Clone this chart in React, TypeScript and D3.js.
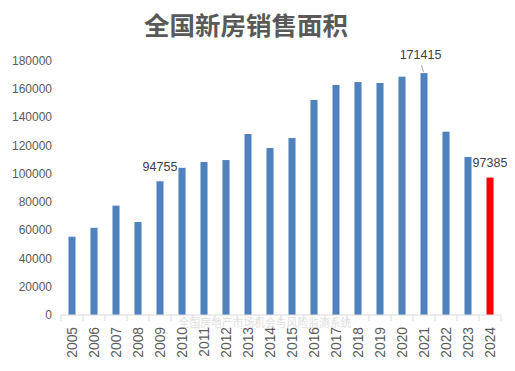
import * as d3 from "d3";
import { useEffect } from "react";

const years = [
  "2005", "2006", "2007", "2008", "2009", "2010", "2011", "2012", "2013", "2014",
  "2015", "2016", "2017", "2018", "2019", "2020", "2021", "2022", "2023", "2024",
];
const areas = [
  55500, 61800, 77500, 65900, 94755, 104300, 108400, 109800, 128300, 118300,
  125400, 152400, 163000, 165100, 164400, 168900, 171415, 129900, 112000, 97385,
];
const yTicks = [0, 20000, 40000, 60000, 80000, 100000, 120000, 140000, 160000, 180000];
const labelledYears = ["2009", "2021", "2024"];
const highlightYear = "2024";

const title = "全国新房销售面积";
const watermark = "全国房地产市场机会与风险监测系统";

const W = 515;
const H = 371;
const textColor = "#595959";
const numFont = "'Liberation Sans', Arial, sans-serif";
const cjkFont = "'Noto Sans CJK SC', sans-serif";

export default function App() {
  useEffect(() => {
    document.body.style.margin = "0";
  }, []);

  const x = d3.scaleBand<string>().domain(years).range([61, 501]).paddingInner(0.68).paddingOuter(0.34);
  const y = d3.scaleLinear().domain([0, 180000]).range([315, 61]);
  const step = x.step();
  const left = x.range()[0];

  return (
    <svg width={W} height={H} style={{ display: "block", background: "#fff" }}>
      <text x={246} y={35} textAnchor="middle" fontFamily={cjkFont} fontWeight={700} fontSize={25.5} fill={textColor}>
        {title}
      </text>

      {/* y axis labels */}
      {yTicks.map((t) => (
        <text key={t} x={52} y={y(t)} textAnchor="end" dominantBaseline="central" fontFamily={numFont} fontSize={12} fill={textColor}>
          {t}
        </text>
      ))}

      {/* watermark */}
      <text x={265} y={322} textAnchor="middle" dominantBaseline="central" fontFamily={cjkFont} fontSize={10.8} fill="#e0e0e0">
        {watermark}
      </text>

      {/* bars */}
      {years.map((yr, i) => (
        <rect
          key={yr}
          x={x(yr)}
          y={y(areas[i])}
          width={x.bandwidth()}
          height={y(0) - y(areas[i])}
          fill={yr === highlightYear ? "#ff0000" : "#4f81bd"}
        />
      ))}

      {/* x axis */}
      <line x1={left} x2={left + step * years.length} y1={y(0)} y2={y(0)} stroke="#d9d9d9" />
      {d3.range(years.length + 1).map((k) => (
        <line key={k} x1={left + k * step} x2={left + k * step} y1={y(0)} y2={y(0) + 6} stroke="#d9d9d9" />
      ))}
      {years.map((yr) => {
        const cx = (x(yr) ?? 0) + x.bandwidth() / 2;
        return (
          <text
            key={yr}
            transform={`translate(${cx},327) rotate(-90)`}
            textAnchor="end"
            dominantBaseline="central"
            fontFamily={numFont}
            fontSize={13.8}
            fill={textColor}
          >
            {yr}
          </text>
        );
      })}

      {/* data labels */}
      {years.map((yr, i) => {
        if (!labelledYears.includes(yr)) return null;
        const cx = (x(yr) ?? 0) + x.bandwidth() / 2;
        const top = y(areas[i]);
        const lifted = yr === "2021";
        return (
          <g key={yr}>
            {lifted && <line x1={cx - 2.5} y1={top - 8} x2={cx - 0.5} y2={top - 1} stroke="#a6a6a6" />}
            <text
              x={lifted ? cx - 3.5 : cx}
              y={lifted ? top - 14 : top - 10.5}
              textAnchor="middle"
              fontFamily={numFont}
              fontSize={12.5}
              fill="#404040"
            >
              {areas[i]}
            </text>
          </g>
        );
      })}
    </svg>
  );
}
